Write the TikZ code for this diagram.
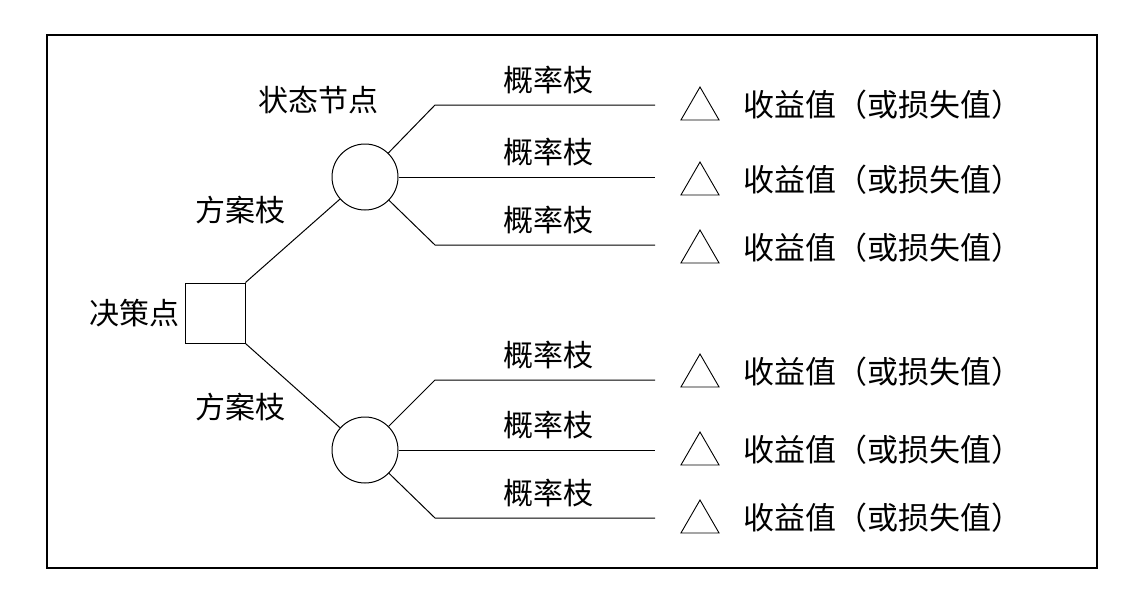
\documentclass[tikz,border=0pt]{standalone}
\usepackage{fontspec}
\newfontfamily\cjk{Noto Sans CJK SC}
\usetikzlibrary{shapes.geometric}
\begin{document}
\begin{tikzpicture}[x=1pt,y=-1pt,
    txt/.style={font=\cjk\fontsize{30}{33}\selectfont, inner sep=0pt},
    val/.style={font=\cjk\fontsize{31}{34}\selectfont, inner sep=0pt, anchor=west},
    tri/.style={draw, regular polygon, regular polygon sides=3, minimum size=44pt, inner sep=0pt, line width=0.9pt},
    ln/.style={line width=1pt}]
    \useasboundingbox (0,0) rectangle (1148,592);
    % frame
    \draw[line width=1.2pt] (47,35) rectangle (1097,568);

    % decision and state nodes
    % ---------------------
    \node[draw, ln, minimum size=60pt, inner sep=0pt] (dec) at (215,313) {};
    \node[txt, anchor=east] (declab) at (180,313) {决策点};
    \node[draw, ln, circle, minimum size=66pt, inner sep=0pt] (s1) at (365,177) {};
    \node[draw, ln, circle, minimum size=66pt, inner sep=0pt] (s2) at (365,450) {};
    \node[txt] (s1lab) at (318,100) {状态节点};
    \draw[ln] (dec.north east) -- (s1);
    \draw[ln] (dec.south east) -- (s2);
    \node[txt] (alt1) at (240,210) {方案枝};
    \node[txt] (alt2) at (240,407) {方案枝};

    % probability branches
    % ---------------------
    \foreach \s/\y/\n/\ty [count=\i] in {s1/105/-1/105, s1/177/0/180, s1/245/1/248,
                                 s2/380/-1/372, s2/450/0/450, s2/518/1/518} {
        \coordinate (k\i) at (435,\y);
        \coordinate (e\i) at (655,\y);
        \ifnum\n=0
            \draw[ln] (\s.east) -- (e\i);
        \else
            \draw[ln] (\s) -- (k\i) -- (e\i);
        \fi
        \node[txt] (p\i) at (548,\y-25) {概率枝};
        \node[tri] (t\i) at (700,\ty+4) {};
        \node[val] (v\i) at (743,\ty) {收益值（或损失值）};
    }
\end{tikzpicture}
\end{document}
